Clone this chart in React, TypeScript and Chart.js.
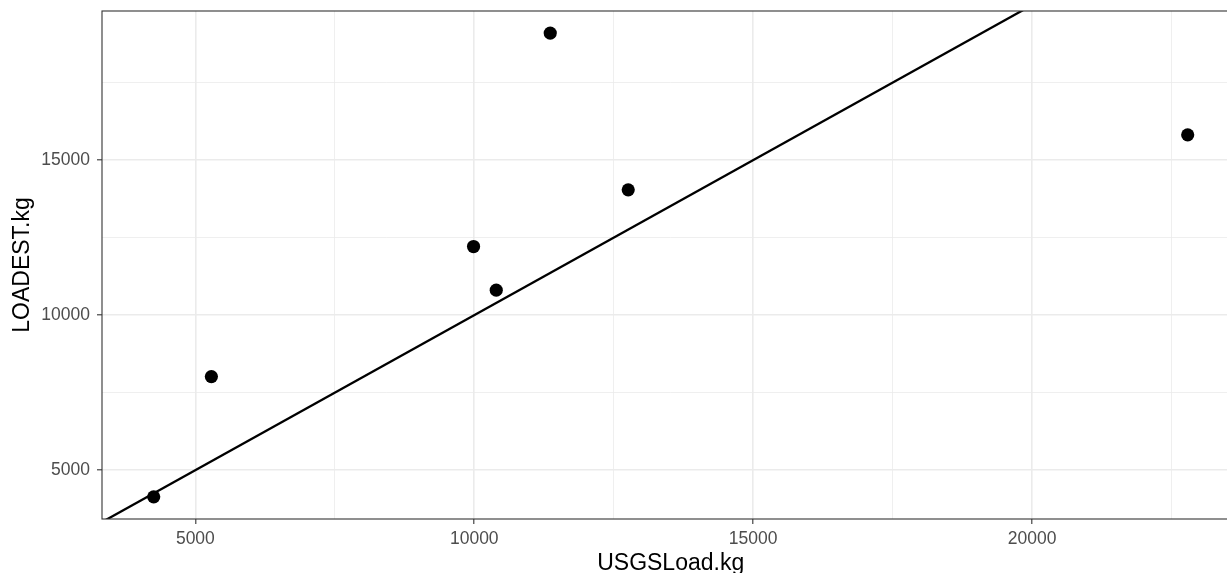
import React, { useEffect, useRef } from "react";
import { Chart, registerables } from "chart.js";

Chart.register(...registerables);

const usgsLoad = [4253, 5287, 9987, 10394, 11362, 12760, 22790];
const loadest = [4139, 8019, 12213, 10806, 19097, 14042, 15816];
const refLine = [0, 30000];
const xMajor = [5000, 10000, 15000, 20000];
const xMinor = [7500, 12500, 17500, 22500];
const yMajor = [5000, 10000, 15000];
const yMinor = [7500, 12500, 17500];
const xLimits = [3326, 23717];
const yLimits = [3425, 19810];

const FONT = "'Liberation Sans', Arial, Helvetica, sans-serif";

const borderPlugin = {
  id: "panelBorder",
  afterDraw(chart: any) {
    const { ctx, chartArea } = chart;
    ctx.save();
    ctx.strokeStyle = "#333333";
    ctx.lineWidth = 1.1;
    ctx.strokeRect(chartArea.left, chartArea.top, chartArea.right - chartArea.left, chartArea.bottom - chartArea.top);
    ctx.restore();
  },
};

export default function App() {
  const ref = useRef<HTMLCanvasElement>(null);
  useEffect(() => {
    if (!ref.current) return;
    const allX = [...xMajor, ...xMinor].sort((a, b) => a - b);
    const allY = [...yMajor, ...yMinor].sort((a, b) => a - b);
    const isMajorX = (v: number) => xMajor.includes(v);
    const isMajorY = (v: number) => yMajor.includes(v);
    const chart = new Chart(ref.current, {
      type: "scatter",
      data: {
        datasets: [
          {
            type: "scatter",
            data: usgsLoad.map((x, i) => ({ x, y: loadest[i] })),
            backgroundColor: "#000000",
            borderWidth: 0,
            pointRadius: 6.6,
            pointHoverRadius: 6.6,
          },
          {
            type: "line",
            data: refLine.map((v) => ({ x: v, y: v })),
            borderColor: "#000000",
            borderWidth: 2.3,
            pointRadius: 0,
            showLine: true,
            fill: false,
          } as any,
        ],
      },
      options: {
        animation: false,
        responsive: false,
        layout: { padding: { top: 11, right: 1, left: 0, bottom: 0 } },
        plugins: { legend: { display: false }, tooltip: { enabled: false } },
        scales: {
          x: {
            type: "linear",
            min: xLimits[0],
            max: xLimits[1],
            afterBuildTicks: (s: any) => {
              s.ticks = allX.map((v) => ({ value: v }));
            },
            afterFit: (s: any) => {
              s.height = 54;
              s.paddingLeft = 0;
              s.paddingRight = 0;
            },
            border: { display: false },
            grid: {
              color: "#EBEBEB",
              lineWidth: (c: any) => (isMajorX(c.tick?.value) ? 1.6 : 0.8),
              tickColor: (c: any) => (isMajorX(c.tick?.value) ? "#333333" : "rgba(0,0,0,0)"),
              tickLength: 5,
              tickWidth: 1.1,
            },
            ticks: {
              autoSkip: false,
              maxRotation: 0,
              padding: 5,
              color: "#4D4D4D",
              font: { family: FONT, size: 17.5 },
              callback: (v: any) => (isMajorX(Number(v)) ? String(v) : ""),
            },
            title: {
              display: true,
              text: "USGSLoad.kg",
              color: "#000000",
              font: { family: FONT, size: 23, lineHeight: 0.85 },
              padding: { top: 0, bottom: 0 },
            },
          },
          y: {
            type: "linear",
            min: yLimits[0],
            max: yLimits[1],
            afterBuildTicks: (s: any) => {
              s.ticks = allY.map((v) => ({ value: v }));
            },
            afterFit: (s: any) => {
              s.width = 102;
              s.paddingTop = 0;
              s.paddingBottom = 0;
            },
            border: { display: false },
            grid: {
              color: "#EBEBEB",
              lineWidth: (c: any) => (isMajorY(c.tick?.value) ? 1.6 : 0.8),
              tickColor: (c: any) => (isMajorY(c.tick?.value) ? "#333333" : "rgba(0,0,0,0)"),
              tickLength: 5,
              tickWidth: 1.1,
            },
            ticks: {
              autoSkip: false,
              padding: 7,
              color: "#4D4D4D",
              font: { family: FONT, size: 17.5 },
              callback: (v: any) => (isMajorY(Number(v)) ? String(v) : ""),
            },
            title: {
              display: true,
              text: "LOADEST.kg",
              color: "#000000",
              font: { family: FONT, size: 23, lineHeight: 1.2 },
              padding: { top: 9, bottom: 0 },
            },
          },
        },
      },
      plugins: [borderPlugin],
    } as any);
    return () => chart.destroy();
  }, []);
  return (
    <div style={{ position: "fixed", left: 0, top: 0, width: 1227, height: 573, overflow: "hidden", background: "#ffffff" }}>
      <canvas ref={ref} width={1246} height={573} style={{ display: "block" }} />
    </div>
  );
}
